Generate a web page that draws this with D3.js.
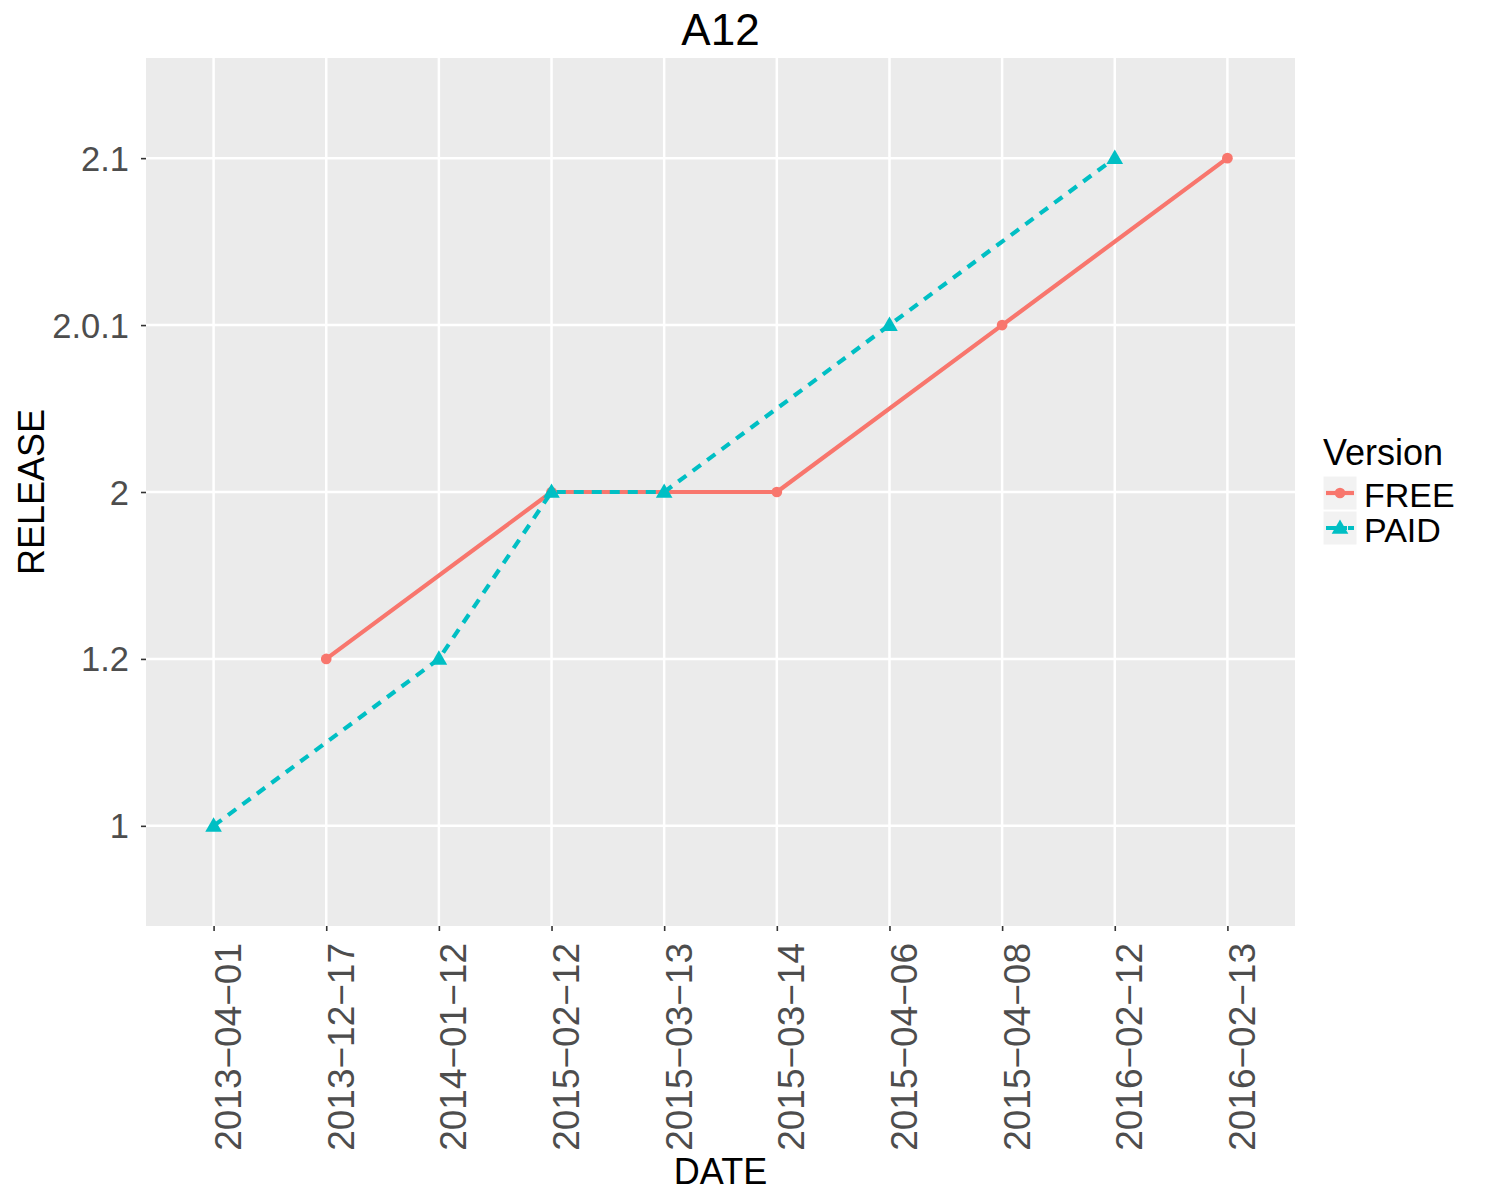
<!DOCTYPE html>
<html>
<head>
<meta charset="utf-8">
<script src="https://cdn.jsdelivr.net/npm/d3@7"></script>
<style>
  body { margin: 0; background: #fff; }
  svg { display: block; }
  text { font-family: "Liberation Sans", Arial, Helvetica, sans-serif; }
</style>
</head>
<body>
<svg id="chart" width="1500" height="1200"></svg>
<script>
// ---- Data ----
const dateCategories = ["2013-04-01","2013-12-17","2014-01-12","2015-02-12","2015-03-13","2015-03-14","2015-04-06","2015-04-08","2016-02-12","2016-02-13"];
const releaseLevels = ["1","1.2","2","2.0.1","2.1"];
const freeDates = ["2013-12-17","2015-02-12","2015-03-14","2015-04-08","2016-02-13"];
const freeRelease = ["1.2","2","2","2.0.1","2.1"];
const paidDates = ["2013-04-01","2014-01-12","2015-02-12","2015-03-13","2015-04-06","2016-02-12"];
const paidRelease = ["1","1.2","2","2","2.0.1","2.1"];
const seriesNames = ["FREE","PAID"];
const seriesColors = ["#F8766D","#00BFC4"];

// ---- Layout ----
const panel = {left: 146, right: 1295, top: 58, bottom: 926};
const svg = d3.select("#chart");

const x = d3.scalePoint().domain(dateCategories).range([panel.left, panel.right]).padding(0.6);
const y = d3.scalePoint().domain(releaseLevels).range([panel.bottom, panel.top]).padding(0.6);

// panel background
svg.append("rect")
  .attr("x", panel.left).attr("y", panel.top)
  .attr("width", panel.right - panel.left).attr("height", panel.bottom - panel.top)
  .attr("fill", "#EBEBEB");

// gridlines
svg.append("g").selectAll("line").data(dateCategories).join("line")
  .attr("x1", d => x(d)).attr("x2", d => x(d))
  .attr("y1", panel.top).attr("y2", panel.bottom)
  .attr("stroke", "#fff").attr("stroke-width", 2.5);
svg.append("g").selectAll("line").data(releaseLevels).join("line")
  .attr("y1", d => y(d)).attr("y2", d => y(d))
  .attr("x1", panel.left).attr("x2", panel.right)
  .attr("stroke", "#fff").attr("stroke-width", 2.5);

// axes
const xAxis = svg.append("g").attr("transform", `translate(0,${panel.bottom})`)
  .call(d3.axisBottom(x).tickSize(5).tickSizeOuter(0).tickFormat(d => d.replace(/-/g, "\u2212")));
xAxis.select(".domain").remove();
xAxis.selectAll(".tick line").attr("stroke", "#333").attr("stroke-width", 1.6);
xAxis.selectAll(".tick text")
  .attr("fill", "#4D4D4D").attr("font-size", 37)
  .attr("text-anchor", "end")
  .attr("transform", "translate(0,17) rotate(-90)")
  .attr("x", 0).attr("y", 0).attr("dy", "27px");

const yAxis = svg.append("g").attr("transform", `translate(${panel.left},0)`)
  .call(d3.axisLeft(y).tickSize(5).tickSizeOuter(0));
yAxis.select(".domain").remove();
yAxis.selectAll(".tick line").attr("stroke", "#333").attr("stroke-width", 1.6);
yAxis.selectAll(".tick text")
  .attr("fill", "#4D4D4D").attr("font-size", 34.5)
  .attr("text-anchor", "end")
  .attr("x", -17).attr("dy", "12px");

// titles
svg.append("text").attr("x", (panel.left + panel.right) / 2).attr("y", 45)
  .attr("text-anchor", "middle").attr("font-size", 44).attr("fill", "#000").text("A12");
svg.append("text").attr("x", (panel.left + panel.right) / 2).attr("y", 1184)
  .attr("text-anchor", "middle").attr("font-size", 36).attr("fill", "#000").text("DATE");
svg.append("text").attr("transform", `translate(44,${(panel.top + panel.bottom) / 2}) rotate(-90)`)
  .attr("text-anchor", "middle").attr("font-size", 36).attr("fill", "#000").text("RELEASE");

// series
const series = [
  {name: seriesNames[0], color: seriesColors[0], dash: null, shape: d3.symbolCircle,
   pts: freeDates.map((d, i) => ({d, r: freeRelease[i]}))},
  {name: seriesNames[1], color: seriesColors[1], dash: "10,8", shape: d3.symbolTriangle,
   pts: paidDates.map((d, i) => ({d, r: paidRelease[i]}))}
];

const line = d3.line().x(p => x(p.d)).y(p => y(p.r));
const gLines = svg.append("g");
series.forEach(s => {
  gLines.append("path").attr("d", line(s.pts))
    .attr("fill", "none").attr("stroke", s.color).attr("stroke-width", 4.2)
    .attr("stroke-dasharray", s.dash).attr("stroke-linejoin", "round");
});
const gPts = svg.append("g");
series.forEach(s => {
  const sz = s.shape === d3.symbolCircle ? 90 : 120;
  gPts.selectAll(null).data(s.pts).join("path")
    .attr("transform", p => `translate(${x(p.d)},${y(p.r) + (s.shape === d3.symbolCircle ? 0 : 1)})`)
    .attr("d", d3.symbol().type(s.shape).size(sz))
    .attr("fill", s.color);
});

// legend
const lg = svg.append("g");
lg.append("text").attr("x", 1323).attr("y", 465).attr("font-size", 36).attr("fill", "#000").text("Version");
series.forEach((s, i) => {
  const top = 476 + i * 35;
  lg.append("rect").attr("x", 1323).attr("y", top).attr("width", 34).attr("height", 34)
    .attr("fill", "#F2F2F2").attr("stroke", "#fff").attr("stroke-width", 1);
  const cy = top + 17;
  lg.append("line").attr("x1", 1326).attr("x2", 1354).attr("y1", cy).attr("y2", cy)
    .attr("stroke", s.color).attr("stroke-width", 4.2).attr("stroke-dasharray", s.dash ? "10,1" : null);
  lg.append("path").attr("transform", `translate(1340,${cy + (s.shape === d3.symbolCircle ? 0 : 1)})`)
    .attr("d", d3.symbol().type(s.shape).size(s.shape === d3.symbolCircle ? 90 : 120))
    .attr("fill", s.color);
  lg.append("text").attr("x", 1364).attr("y", cy + 14).attr("font-size", 34).attr("fill", "#000").text(s.name);
});
</script>
</body>
</html>
